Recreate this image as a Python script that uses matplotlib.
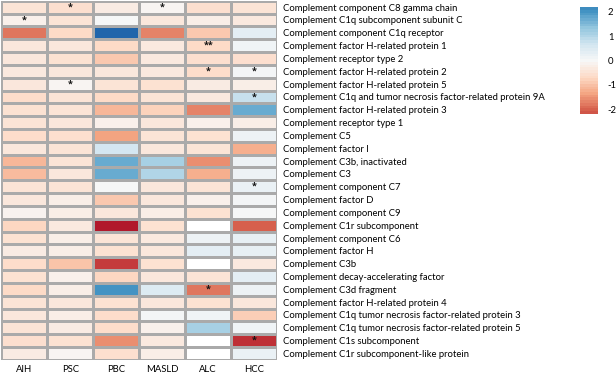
import numpy as np
import matplotlib
matplotlib.use("Agg")
import matplotlib.pyplot as plt
from matplotlib.colors import Normalize
from matplotlib.cm import ScalarMappable

plt.rcParams['font.family'] = ['Lato', 'DejaVu Sans']
plt.rcParams['axes.unicode_minus'] = False

groups = ['AIH', 'PSC', 'PBC', 'MASLD', 'ALC', 'HCC']

proteins = [
    'Complement component C8 gamma chain',
    'Complement C1q subcomponent subunit C',
    'Complement component C1q receptor',
    'Complement factor H-related protein 1',
    'Complement receptor type 2',
    'Complement factor H-related protein 2',
    'Complement factor H-related protein 5',
    'Complement C1q and tumor necrosis factor-related protein 9A',
    'Complement factor H-related protein 3',
    'Complement receptor type 1',
    'Complement C5',
    'Complement factor I',
    'Complement C3b, inactivated',
    'Complement C3',
    'Complement component C7',
    'Complement factor D',
    'Complement component C9',
    'Complement C1r subcomponent',
    'Complement component C6',
    'Complement factor H',
    'Complement C3b',
    'Complement decay-accelerating factor',
    'Complement C3d fragment',
    'Complement factor H-related protein 4',
    'Complement C1q tumor necrosis factor-related protein 3',
    'Complement C1q tumor necrosis factor-related protein 5',
    'Complement C1s subcomponent',
    'Complement C1r subcomponent-like protein',
]

# log fold change per group (rows follow proteins)
aih = [-0.4, -0.15, -1.6, -0.35, -0.35, -0.3, -0.35, -0.55, -0.45, -0.4, -0.55, -0.35, -1.0, -0.95,
       -0.4, -0.35, -0.1, -0.65, -0.45, -0.25, -0.55, -0.45, -0.6, -0.4, -0.35, -0.4, -0.5, -0.25]
psc = [-0.5, -0.4, -0.6, -0.35, -0.45, -0.35, -0.05, -0.4, -0.4, -0.35, -0.5, -0.4, -0.4, -0.35,
       -0.4, -0.2, -0.2, -0.3, -0.2, -0.2, -0.85, -0.15, -0.2, -0.35, -0.2, -0.25, -0.45, -0.05]
pbc = [-0.25, 0.0, 2.4, -0.6, -0.8, -0.35, -0.4, -0.6, -1.0, -0.15, -1.2, 0.55, 1.5, 1.5,
       0.0, -0.8, -0.35, -2.4, -0.4, -0.45, -2.1, -0.65, 1.8, -0.45, -0.55, -0.55, -1.4, -0.5]
masld = [-0.05, -0.35, -1.5, -0.3, -0.3, -0.3, -0.45, -0.4, -0.7, -0.35, -0.4, -0.35, 1.0, 0.9,
         -0.35, -0.35, -0.2, -0.45, -0.3, -0.35, -0.45, -0.35, 0.4, -0.35, 0.05, -0.15, -0.3, -0.2]
alc = [-0.5, -0.2, -0.8, -0.6, -0.5, -0.55, -0.25, -0.3, -1.5, -0.15, -0.45, -0.4, -1.4, -1.1,
       -0.4, -0.15, -0.45, np.nan, 0.15, 0.3, np.nan, -0.4, -1.6, -0.45, 0.1, 1.0, np.nan, np.nan]
hcc = [-0.4, -0.3, 0.3, 0.1, -0.5, 0.05, -0.2, 0.7, 1.5, -0.2, 0.15, -1.1, 0.15, 0.15,
       0.2, 0.05, 0.0, -1.8, 0.25, 0.25, -0.3, 0.3, 0.15, -0.35, -0.75, 0.1, -2.2, 0.2]

# significance marks: (protein index, group index, label)
stars = [(0, 1, '*'), (0, 3, '*'), (1, 0, '*'), (3, 4, '**'), (5, 4, '*'), (5, 5, '*'),
         (6, 1, '*'), (7, 5, '*'), (14, 5, '*'), (22, 4, '*'), (26, 5, '*')]

data = np.array([aih, psc, pbc, masld, alc, hcc]).T
data = np.ma.masked_invalid(data)

cmap = plt.get_cmap('RdBu').copy()
cmap.set_bad('white')
norm = Normalize(vmin=-3, vmax=3)

fig = plt.figure(figsize=(6.16, 3.76), dpi=100)
ax = fig.add_axes([0.002, 0.043, 0.448, 0.955])

ax.pcolormesh(data, cmap=cmap, norm=norm, edgecolors='#aaaaaa', linewidth=0.9)
ax.set_xlim(0, len(groups))
ax.set_ylim(len(proteins), 0)

for r, c, s in stars:
    ax.text(c + 0.5, r + 0.48, s, ha='center', va='center', fontsize=6.5,
            fontweight='bold', color='#111111', family='Open Sans')

ax.set_xticks(np.arange(len(groups)) + 0.5)
ax.set_xticklabels(groups, fontsize=6.8)
ax.set_yticks(np.arange(len(proteins)) + 0.5)
ax.set_yticklabels(proteins, fontsize=6.8)
ax.yaxis.tick_right()
ax.tick_params(length=0, pad=4)
for sp in ax.spines.values():
    sp.set_visible(False)

# legend bar is drawn a little paler than the cells
cax = fig.add_axes([0.942, 0.697, 0.029, 0.284])
sm = ScalarMappable(norm=Normalize(vmin=-3.4, vmax=3.4), cmap=cmap)
cb = fig.colorbar(sm, cax=cax, boundaries=np.linspace(-2.2, 2.2, 40), ticks=[-2, -1, 0, 1, 2])
cb.outline.set_visible(False)
cb.ax.tick_params(length=0, labelsize=6.8, pad=7)

fig.savefig('out.png', dpi=100)
